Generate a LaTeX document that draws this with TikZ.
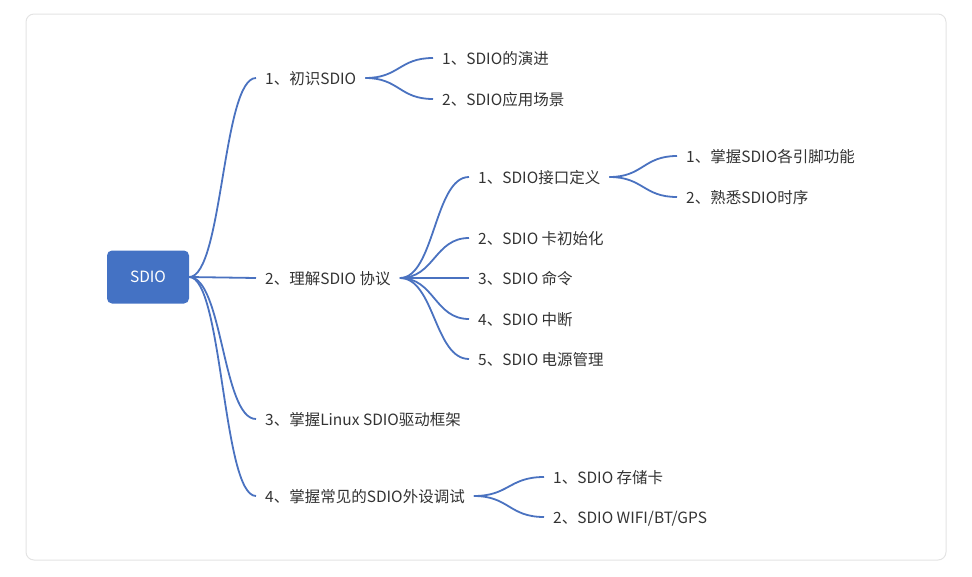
\documentclass[tikz,border=0pt]{standalone}
\usepackage{fontspec}
\setmainfont{Noto Sans CJK SC}
\usepackage{xcolor}
\usetikzlibrary{calc}

\definecolor{branchblue}{HTML}{4A72C0}
\definecolor{rootblue}{HTML}{4472C4}
\definecolor{framegray}{HTML}{E3E3E3}
\definecolor{textgray}{HTML}{333333}

\tikzset{
	root/.style={rectangle, rounded corners=5bp, fill=rootblue, text=white,
		minimum width=82bp, minimum height=53bp, inner sep=0pt},
	topic/.style={anchor=west, inner xsep=9bp, inner ysep=0pt, text=textgray,
		text height=12.5bp, text depth=0.5bp},
	branch/.style={draw=branchblue, line width=1.8bp,
		to path={.. controls ($(\tikztostart)!0.5!(\tikztotarget |- \tikztostart)$)
			and ($(\tikztotarget)!0.5!(\tikztostart |- \tikztotarget)$) .. (\tikztotarget)}}
}

\begin{document}
\begin{tikzpicture}[font=\fontsize{15.5bp}{18bp}\selectfont]
	\useasboundingbox (0bp,0bp) rectangle (972bp,-577bp);
	\draw [framegray, line width=1bp, rounded corners=8bp] (26bp,-14bp) rectangle (946bp,-560bp);

	\node (sdio) at (148bp,-277bp) [root] {SDIO};

	\node (t1)  at (256bp,-78bp)  [topic] {1、初识SDIO};
	\node (t1a) at (433bp,-58bp)  [topic] {1、SDIO的演进};
	\node (t1b) at (433bp,-99bp)  [topic] {2、SDIO应用场景};

	\node (t2)  at (256bp,-278bp) [topic] {2、理解SDIO 协议};
	\node (t2a) at (469bp,-177bp) [topic] {1、SDIO接口定义};
	\node (t2b) at (469bp,-238bp) [topic] {2、SDIO 卡初始化};
	\node (t2c) at (469bp,-278bp) [topic] {3、SDIO 命令};
	\node (t2d) at (469bp,-319bp) [topic] {4、SDIO 中断};
	\node (t2e) at (469bp,-359bp) [topic] {5、SDIO 电源管理};
	\node (p1)  at (677bp,-156bp) [topic] {1、掌握SDIO各引脚功能};
	\node (p2)  at (677bp,-197bp) [topic] {2、熟悉SDIO时序};

	\node (t3)  at (256bp,-419bp) [topic] {3、掌握Linux SDIO驱动框架};

	\node (t4)  at (256bp,-496bp) [topic] {4、掌握常见的SDIO外设调试};
	\node (t4a) at (544bp,-477bp) [topic] {1、SDIO 存储卡};
	\node (t4b) at (544bp,-517bp) [topic] {2、SDIO WIFI/BT/GPS};

	% mind map branches
	\foreach \from/\to in {sdio/t1, sdio/t2, sdio/t3, sdio/t4,
			t1/t1a, t1/t1b, t2/t2a, t2/t2b, t2/t2c, t2/t2d, t2/t2e,
			t2a/p1, t2a/p2, t4/t4a, t4/t4b}
		\draw [branch] (\from.east) to (\to.west);
\end{tikzpicture}
\end{document}
